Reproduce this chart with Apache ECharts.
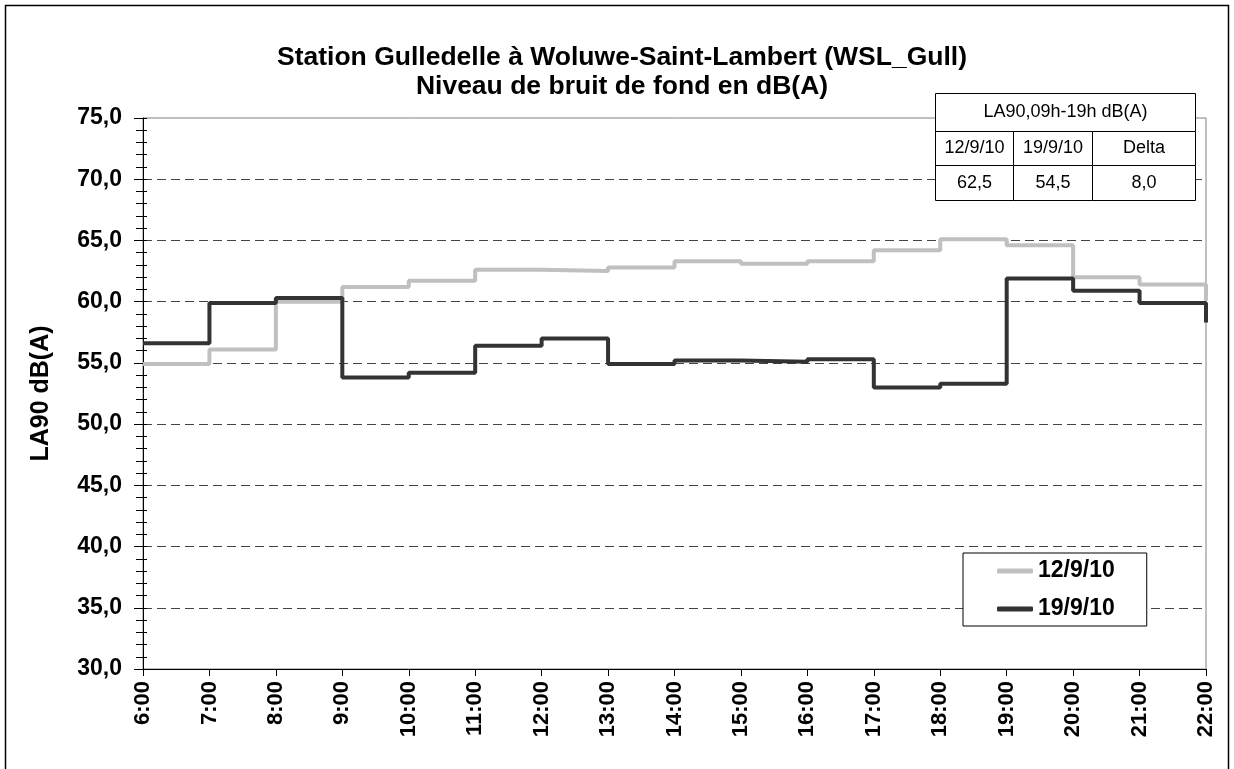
<!DOCTYPE html>
<html>
<head>
<meta charset="utf-8">
<script src="https://cdn.jsdelivr.net/npm/echarts@6/dist/echarts.min.js"></script>
<style>
  html, body { margin: 0; padding: 0; background: #fff; }
  #main { width: 1234px; height: 769px; }
</style>
</head>
<body>
<div id="main"></div>
<script>
// hours 6:00 .. 22:00 (value at h = level for the hour h -> h+1)
var hours = ["6:00", "7:00", "8:00", "9:00", "10:00", "11:00", "12:00", "13:00", "14:00",
  "15:00", "16:00", "17:00", "18:00", "19:00", "20:00", "21:00", "22:00"];
var sunday12 = [54.9, 56.1, 60.0, 61.2, 61.7, 62.6, 62.5, 62.8, 63.3, 63.1, 63.3, 64.2, 65.1, 64.6, 62.0, 61.4, 60.1];
var sunday19 = [56.6, 59.9, 60.3, 53.8, 54.2, 56.4, 57.0, 54.9, 55.2, 55.1, 55.3, 53.0, 53.3, 61.9, 60.9, 59.9, 58.3];
var seriesNames = ["12/9/10", "19/9/10"];
var tableHead = "LA90,09h-19h dB(A)";
var tableCols = ["12/9/10", "19/9/10", "Delta"];
var tableVals = ["62,5", "54,5", "8,0"];

window.onload = function () {
  var chartDom = document.getElementById("main");
  var myChart = echarts.init(chartDom);
  var font = "Liberation Sans, Arial, sans-serif";

  // summary table in the top right corner
  var cell = function (x, y, w, h, txt) {
    return {
      type: "group", x: x, y: y, z: 100,
      children: [
        { type: "rect", z: 100, shape: { x: 0, y: 0, width: w, height: h },
          style: { fill: "#fff", stroke: "#000", lineWidth: 1 } },
        { type: "text", z: 101, x: w / 2, y: h / 2,
          style: { text: txt, fill: "#000", font: "18px " + font, align: "center", verticalAlign: "middle" } }
      ]
    };
  };
  var colX = [935.5, 1013.5, 1092.5];
  var colW = [78, 79, 103];
  var tableEls = [cell(935.5, 93.5, 260, 38, tableHead)];
  for (var i = 0; i < 3; i++) {
    tableEls.push(cell(colX[i], 131.5, colW[i], 34, tableCols[i]));
    tableEls.push(cell(colX[i], 165.5, colW[i], 35, tableVals[i]));
  }

  // no dashed line on top of the plot border at 75
  var gridColors = [];
  for (var k = 0; k < 9; k++) gridColors.push("#444");
  gridColors.push("transparent");

  var option = {
    backgroundColor: "#fff",
    animation: false,
    title: {
      text: "Station Gulledelle à Woluwe-Saint-Lambert (WSL_Gull)\nNiveau de bruit de fond en dB(A)",
      left: 617, top: 38, textAlign: "center",
      textStyle: { fontFamily: font, fontSize: 26.5, fontWeight: "bold", color: "#000", lineHeight: 29 }
    },
    legend: {
      data: seriesNames,
      orient: "vertical",
      left: 963, top: 553,
      padding: [6, 32, 5, 34],
      itemGap: 14,
      itemWidth: 36, itemHeight: 5,
      icon: "roundRect",
      borderColor: "#000", borderWidth: 1,
      backgroundColor: "#fff",
      textStyle: { fontFamily: font, fontSize: 23, fontWeight: "bold", color: "#000", lineHeight: 24 }
    },
    grid: {
      left: 143, right: 28, top: 118, bottom: 100,
      show: true, borderColor: "#808080", borderWidth: 1
    },
    xAxis: {
      type: "category",
      data: hours,
      boundaryGap: false,
      axisLine: { lineStyle: { color: "#000", width: 1 } },
      axisTick: { length: 7, lineStyle: { color: "#000" } },
      axisLabel: {
        rotate: 90, margin: 12, interval: 0,
        fontFamily: font, fontSize: 22, fontWeight: "bold", color: "#000"
      },
      splitLine: { show: false }
    },
    yAxis: [{
      type: "value",
      min: 30, max: 75, interval: 5,
      position: "left",
      name: "LA90 dB(A)",
      nameLocation: "middle",
      nameGap: 89,
      nameTextStyle: { fontFamily: font, fontSize: 25, fontWeight: "bold", color: "#000" },
      axisLine: { show: true, lineStyle: { color: "#000", width: 1 } },
      axisTick: { show: true, length: 9, lineStyle: { color: "#000" } },
      minorTick: { show: true, splitNumber: 5, length: 7, lineStyle: { color: "#000" } },
      axisLabel: {
        margin: 21,
        fontFamily: font, fontSize: 23, fontWeight: "bold", color: "#000",
        formatter: function (v) { return v.toFixed(1).replace(".", ","); }
      },
      splitLine: { show: true, lineStyle: { color: gridColors, type: [9, 5], width: 1 } }
    }, {
      type: "value",
      min: 30, max: 75, interval: 5,
      position: "left",
      axisLine: { show: false },
      axisTick: { show: true, inside: true, length: 4, lineStyle: { color: "#000" } },
      minorTick: { show: true, splitNumber: 5, length: 4, lineStyle: { color: "#000" } },
      axisLabel: { show: false },
      splitLine: { show: false }
    }],
    series: [
      {
        name: seriesNames[0], type: "line", step: "end",
        data: sunday12, showSymbol: false, symbol: "none",
        color: "#c0c0c0",
        lineStyle: { color: "#c0c0c0", width: 4 }
      },
      {
        name: seriesNames[1], type: "line", step: "end",
        data: sunday19, showSymbol: false, symbol: "none",
        color: "#333333",
        lineStyle: { color: "#333333", width: 4 }
      }
    ],
    graphic: [{
      type: "rect", z: 100,
      shape: { x: 5.5, y: 5.5, width: 1223, height: 800 },
      style: { fill: "none", stroke: "#000", lineWidth: 1.5 }
    }].concat(tableEls)
  };

  option && myChart.setOption(option);
};
</script>
</body>
</html>
